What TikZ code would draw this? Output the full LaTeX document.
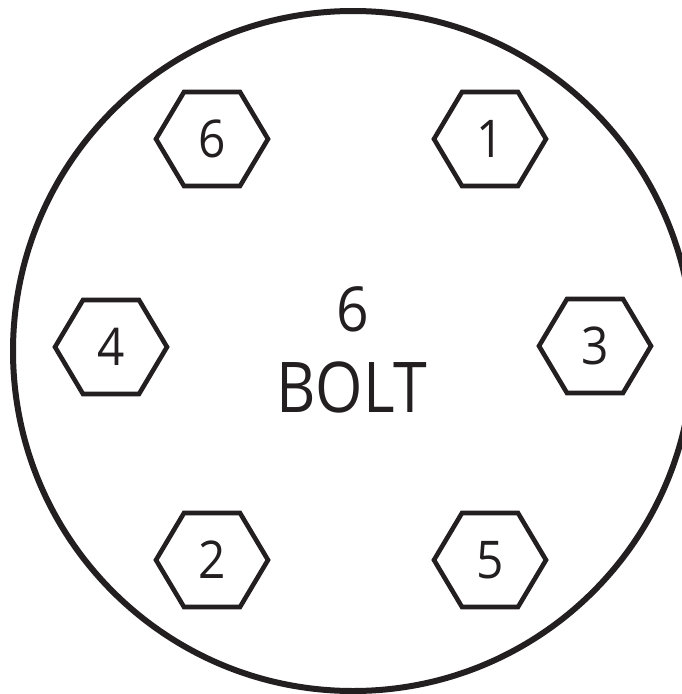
\documentclass[tikz,border=0pt]{standalone}
\usepackage{fontspec}
\usepackage{graphicx}
\setmainfont{Open Sans}
\definecolor{ink}{HTML}{231F20}
\begin{document}
\begin{tikzpicture}[x=1pt,y=-1pt,
  hexline/.style={draw=ink,line width=4.6pt,line join=miter},
  boltlabel/.style={text=ink,font=\fontsize{52}{52}\selectfont,inner sep=0pt},
  bigtext/.style={text=ink,inner sep=0pt,anchor=base}]
\useasboundingbox (0,0) rectangle (682,694);
\clip (0,0) rectangle (682,694);
\fill[white] (0,0) rectangle (682,694);
\draw[ink,line width=6pt] (353,351) circle[radius=340];
\foreach \n/\x/\y in {6/212/139,1/490/139,4/111/347,3/595/346,2/212/560,5/490/560}{
  \node[boltlabel] (b\n) at (\x,\y) {\scalebox{0.92}[1]{\n}};
  \draw[hexline,shift={(b\n.center)}] (-56,0) -- (-28,-47) -- (28,-47) -- (56,0) -- (28,47) -- (-28,47) -- cycle;
}
\node[bigtext,font=\fontsize{62}{62}\selectfont] (num) at (353,331) {\scalebox{0.92}[1]{6}};
\node[bigtext,font=\fontsize{70}{70}\selectfont] (word) at (352,412) {\scalebox{0.87}[1]{BOLT}};
\end{tikzpicture}
\end{document}
